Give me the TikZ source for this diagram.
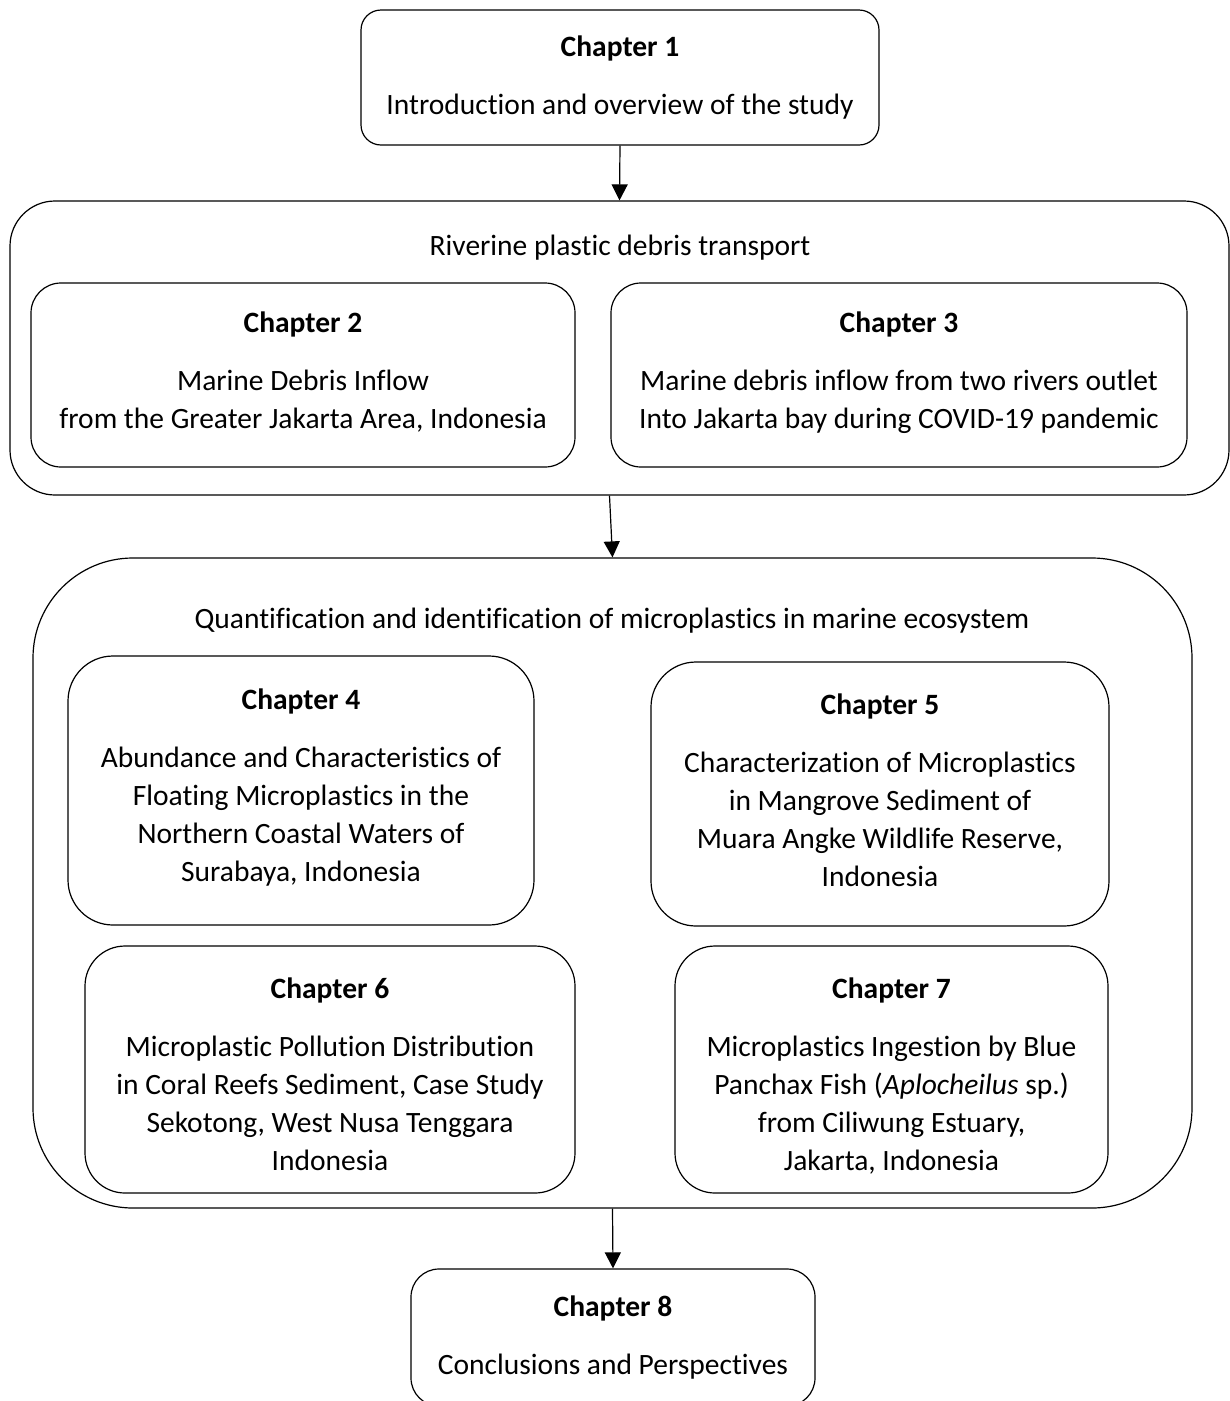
\documentclass[tikz,border=0pt]{standalone}
\usepackage{fontspec}
\setmainfont[Ligatures=NoCommon]{Carlito}
\usetikzlibrary{arrows.meta}
\begin{document}
\begin{tikzpicture}[x=1pt,y=-1pt,
  every node/.style={font=\fontsize{29.5}{38}\selectfont, align=center, inner sep=0pt},
  chap/.style={draw, line width=1.2pt, rounded corners=#1},
  grp/.style={draw, line width=1.2pt, rounded corners=#1},
  arr/.style={line width=1.2pt, -{Triangle[length=16pt,width=16pt]}},
  txt/.style={}
]
\clip (0,0) rectangle (1230,1401);
\fill[white] (0,0) rectangle (1230,1401);

\node[chap=20pt, minimum width=518pt, minimum height=135pt] (c1) at (620,77.5) {};
\node[txt] (c1t) at (c1.center) {\textbf{Chapter 1}\\[20pt] Introduction and overview of the study};

\node[grp=45pt, minimum width=1219pt, minimum height=294pt] (g1) at (619.5,348) {};
\node[txt] (t1) at (620,248) {Riverine plastic debris transport};

\node[chap=30pt, minimum width=544pt, minimum height=184pt] (c2) at (303,375) {};
\node[txt] (c2t) at ([yshift=3pt]c2.center)
  {\textbf{Chapter 2}\\[20pt] Marine Debris Inflow\\ from the Greater Jakarta Area, Indonesia};
\node[chap=30pt, minimum width=576pt, minimum height=184pt] (c3) at (899,375) {};
\node[txt] (c3t) at ([yshift=2.5pt]c3.center)
  {\textbf{Chapter 3}\\[20pt] Marine debris inflow from two rivers outlet\\ Into Jakarta bay during COVID-19 pandemic};

\node[grp=100pt, minimum width=1159pt, minimum height=650pt] (g2) at (612.5,883) {};
\node[txt] (t2) at (612,621) {Quantification and identification of microplastics in marine ecosystem};

\node[chap=45pt, minimum width=466pt, minimum height=269pt] (c4) at (301,790.5) {};
\node[txt] (c4t) at ([yshift=3pt]c4.center)
  {\textbf{Chapter 4}\\[20pt] Abundance and Characteristics of\\ Floating Microplastics in the\\ Northern Coastal Waters of\\ Surabaya, Indonesia};
\node[chap=45pt, minimum width=458pt, minimum height=264pt] (c5) at (880,794) {};
\node[txt] (c5t) at ([yshift=3.5pt]c5.center)
  {\textbf{Chapter 5}\\[20pt] Characterization of Microplastics\\ in Mangrove Sediment of\\ Muara Angke Wildlife Reserve,\\ Indonesia};
\node[chap=40pt, minimum width=490pt, minimum height=247pt] (c6) at (330,1069.5) {};
\node[txt] (c6t) at ([yshift=-5pt]c6.center)
  {\textbf{Chapter 6}\\[20pt] Microplastic Pollution Distribution\\ in Coral Reefs Sediment, Case Study\\ Sekotong, West Nusa Tenggara\\ Indonesia};
\node[chap=40pt, minimum width=433pt, minimum height=247pt] (c7) at (891.5,1069.5) {};
\node[txt] (c7t) at ([yshift=-7pt]c7.center)
  {\textbf{Chapter 7}\\[20pt] Microplastics Ingestion by Blue\\ Panchax Fish (\textit{Aplocheilus} sp.)\\ from Ciliwung Estuary,\\ Jakarta, Indonesia};

\node[chap=28pt, minimum width=404pt, minimum height=137pt] (c8) at (613,1337.5) {};
\node[txt] (c8t) at (c8.center) {\textbf{Chapter 8}\\[20pt] Conclusions and Perspectives};

\draw[arr] (c1.south) -- (g1.north);
\draw[arr] ([xshift=-10pt]g1.south) -- (g2.north);
\draw[arr] (g2.south) -- (c8.north);
\end{tikzpicture}
\end{document}
